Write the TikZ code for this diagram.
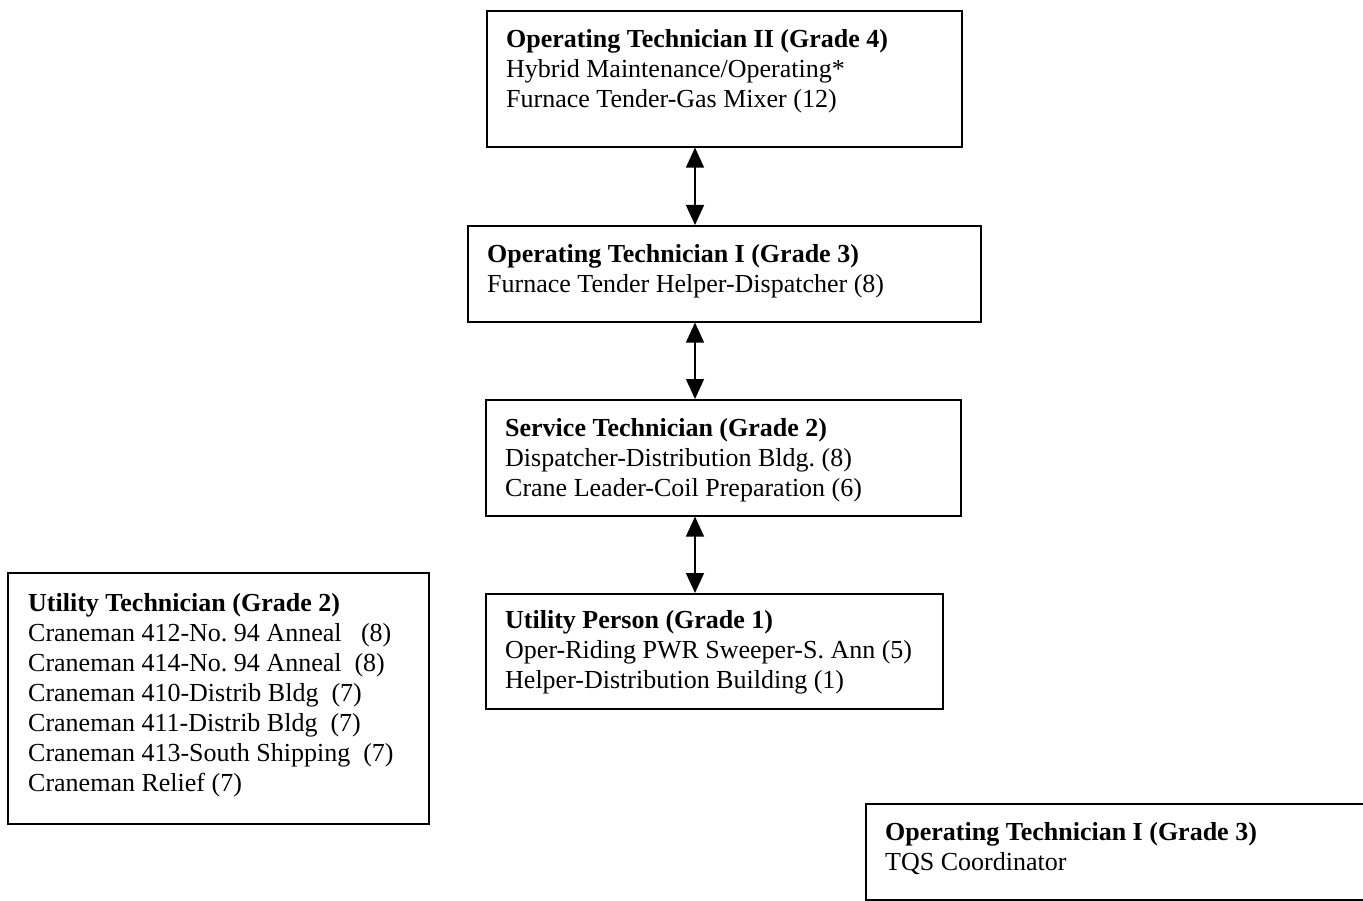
\documentclass[tikz,border=0pt]{standalone}
\usepackage{fontspec}
\setmainfont{Liberation Serif}
\usetikzlibrary{arrows.meta}
\frenchspacing

\tikzset{
  box/.style={draw, line width=1.6pt, rectangle, anchor=north west, inner sep=0pt},
  txt/.style={anchor=north west, align=left, inner sep=0pt, font=\fontsize{26}{30}\selectfont},
  link/.style={line width=1.5pt, {Triangle[length=20pt,width=18pt]}-{Triangle[length=20pt,width=18pt]}}
}

\begin{document}
\begin{tikzpicture}[x=1pt,y=-1pt]
            \fill[white] (0,0) rectangle (1363,901);
            \useasboundingbox (0,0) rectangle (1363,901);
            % boxes
            \node[box, minimum width=475pt, minimum height=136pt] at (486,10) (ot2) {};
            \node[box, minimum width=513pt, minimum height=96pt] at (467,225) (ot1) {};
            \node[box, minimum width=475pt, minimum height=116pt] at (485,399) (st) {};
            \node[box, minimum width=457pt, minimum height=115pt] at (485,593) (up) {};
            \node[box, minimum width=421pt, minimum height=251pt] at (7,572) (ut) {};
            \node[box, minimum width=540pt, minimum height=96pt] at (865,803) (tqs) {};
            % texts
            \node[txt] at ([shift={(20,19)}]ot2.north west) (ot2t) {\textbf{Operating Technician II (Grade 4)}\\Hybrid Maintenance/Operating*\\Furnace Tender-Gas Mixer (12)};
            \node[txt] at ([shift={(20,19)}]ot1.north west) (ot1t) {\textbf{Operating Technician I (Grade 3)}\\Furnace Tender Helper-Dispatcher (8)};
            \node[txt] at ([shift={(20,19)}]st.north west) (stt) {\textbf{Service Technician (Grade 2)}\\Dispatcher-Distribution Bldg. (8)\\Crane Leader-Coil Preparation (6)};
            \node[txt] at ([shift={(20,17)}]up.north west) (upt) {\textbf{Utility Person (Grade 1)}\\Oper-Riding PWR Sweeper-S. Ann (5)\\Helper-Distribution Building (1)};
            \node[txt] at ([shift={(21,21)}]ut.north west) (utt) {\textbf{Utility Technician (Grade 2)}\\Craneman 412-No. 94 Anneal\ \ \ (8)\\Craneman 414-No. 94 Anneal\ \ (8)\\Craneman 410-Distrib Bldg\ \ (7)\\Craneman 411-Distrib Bldg\ \ (7)\\Craneman 413-South Shipping\ \ (7)\\Craneman Relief (7)};
            \node[txt] at ([shift={(20,19)}]tqs.north west) (tqst) {\textbf{Operating Technician I (Grade 3)}\\TQS Coordinator};
            % arrows
            \draw[link] (ot2.south -| 695,0) -- (ot1.north -| 695,0);
            \draw[link] (ot1.south -| 695,0) -- (st.north -| 695,0);
            \draw[link] (st.south -| 695,0) -- (up.north -| 695,0);
        \end{tikzpicture}
\end{document}
